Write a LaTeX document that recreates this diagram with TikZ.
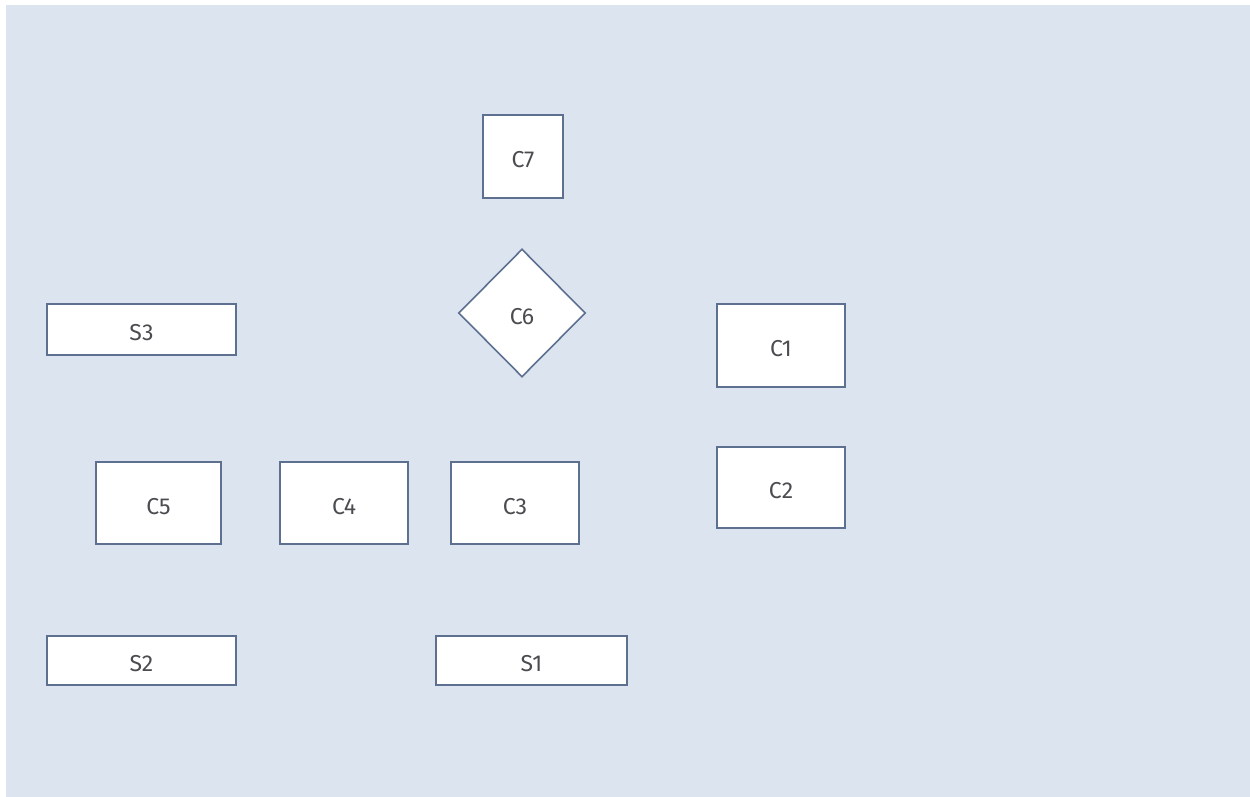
\documentclass[tikz,border=0pt]{standalone}
\usepackage{fontspec}
\setmainfont{Fira Sans}
\usetikzlibrary{shapes.geometric}
\definecolor{bgc}{HTML}{DCE4F0}
\definecolor{edge}{HTML}{5E7090}
\definecolor{txt}{HTML}{4A4C50}
\tikzset{
  lbl/.style={font=\fontsize{23}{27}\selectfont, text=txt, text height=22pt, text depth=0pt},
  box/.style={draw=edge, fill=white, line width=1.6pt, rectangle, inner sep=0pt, lbl},
  dia/.style={draw=edge, fill=white, line width=1.6pt, diamond, inner sep=0pt, aspect=1, lbl}
}
\begin{document}
\begin{tikzpicture}[x=1pt,y=-1pt]
\useasboundingbox (0,0) rectangle (1250,797);
\fill[white] (0,0) rectangle (1250,797);
\fill[bgc] (6,5) rectangle (1250,797);
\node[box, minimum width=80pt, minimum height=83pt] (C7) at (523,156.5) {C7};
\node[dia, minimum width=127pt, minimum height=128pt] (C6) at (522,313) {C6};
\node[box, minimum width=189pt, minimum height=51pt] (S3) at (141.5,329.5) {S3};
\node[box, minimum width=128pt, minimum height=83pt] (C1) at (781,345.5) {C1};
\node[box, minimum width=128pt, minimum height=81pt] (C2) at (781,487.5) {C2};
\node[box, minimum width=125pt, minimum height=82pt] (C5) at (158.5,503) {C5};
\node[box, minimum width=128pt, minimum height=82pt] (C4) at (344,503) {C4};
\node[box, minimum width=128pt, minimum height=82pt] (C3) at (515,503) {C3};
\node[box, minimum width=189pt, minimum height=49pt] (S2) at (141.5,660.5) {S2};
\node[box, minimum width=191pt, minimum height=49pt] (S1) at (531.5,660.5) {S1};
\end{tikzpicture}
\end{document}
